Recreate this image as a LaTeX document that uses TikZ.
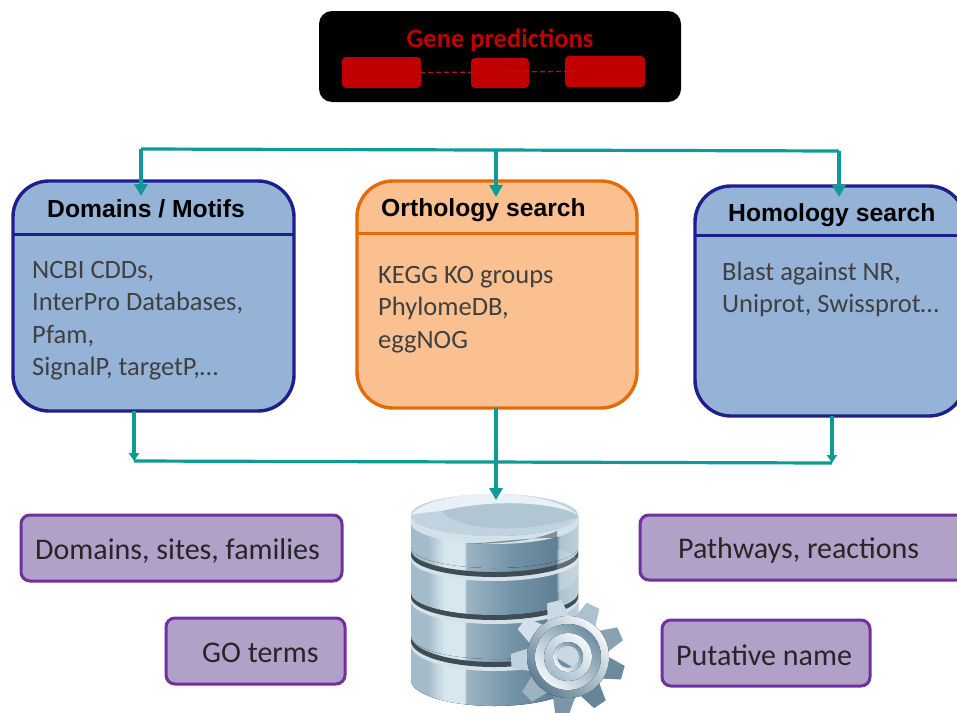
\documentclass[tikz,border=0pt]{standalone}
\usepackage{fontspec}
\setmainfont{Carlito}
\newfontfamily\headfont{Liberation Sans}
\usetikzlibrary{arrows.meta}
\definecolor{teal1}{HTML}{0E9A96}
\definecolor{bluefill}{HTML}{95B3D7}
\definecolor{blueline}{HTML}{1F1F8C}
\definecolor{orfill}{HTML}{FAC090}
\definecolor{orline}{HTML}{E36C09}
\definecolor{purfill}{HTML}{B1A0C7}
\definecolor{purline}{HTML}{7030A0}
\definecolor{redbox}{HTML}{C00000}
\definecolor{bodytext}{HTML}{404040}
\definecolor{dbA}{HTML}{D8E6EF}
\definecolor{dbB}{HTML}{A3BBCA}
\definecolor{dbC}{HTML}{6E8FA3}
\definecolor{dbD}{HTML}{5F7F93}
\definecolor{dbLip}{HTML}{D3E1E9}
\definecolor{dbGap}{HTML}{3F4C54}
\pgfdeclarehorizontalshading{dbsideshade}{100bp}{
  color(0bp)=(dbB); color(25bp)=(dbB); color(30bp)=(dbB); color(35bp)=(dbA); color(41bp)=(dbA);
  color(41.6bp)=(dbB!85!dbC); color(55bp)=(dbC!90!dbB); color(68.6bp)=(dbD);
  color(69.4bp)=(dbB!90!white); color(75bp)=(dbB!70!white); color(100bp)=(dbB!70!white)}
\tikzset{
  x=1pt,y=-1pt,
  conn/.style={draw=teal1,line width=3.2pt},
  arr/.style={conn,-{Stealth[length=12pt,width=13pt,inset=0pt]}},
  smallarr/.style={conn,-{Stealth[length=8pt,width=10pt,inset=0pt]}},
  catbox/.style={rounded corners=36pt,line width=3.4pt},
  bluebox/.style={catbox,draw=blueline,fill=bluefill},
  orbox/.style={catbox,draw=orline,fill=orfill},
  hline/.style={line width=3pt},
  head/.style={font=\headfont\bfseries\fontsize{24.7}{28}\selectfont,text=black,anchor=west,inner sep=0pt},
  body/.style={font=\fontsize{26.5}{32.3}\selectfont,text=bodytext,anchor=north west,align=left,inner sep=0pt},
  tag/.style={draw=purline,fill=purfill,line width=3pt,rounded corners=9pt,inner sep=0pt,outer sep=0pt,anchor=north west},
  tagtext/.style={font=\fontsize{30}{34}\selectfont,text=black!85,anchor=base west,inner sep=0pt},
  exon/.style={fill=redbox,rounded corners=4pt,inner sep=0pt,outer sep=0pt,anchor=north west},
  dbface/.style={shading=dbsideshade},
}
\begin{document}
\begin{tikzpicture}
\useasboundingbox (0,0) rectangle (957,712);
\fill[white] (0,0) rectangle (957,712);

% gene predictions
\node[fill=black,rounded corners=13pt,inner sep=0pt,outer sep=0pt,minimum width=362pt,minimum height=91pt,anchor=north west] (gene) at (319,11) {};
\node[font=\bfseries\fontsize{26.5}{28}\selectfont,text=redbox,inner sep=0pt] (genet) at (500,40) {Gene predictions};
\node[exon,minimum width=79pt,minimum height=31pt] (ex1) at (342,57) {};
\node[exon,minimum width=58pt,minimum height=30pt] (ex2) at (471,58) {};
\node[exon,minimum width=80pt,minimum height=31pt] (ex3) at (565,56) {};
\draw[redbox!85!gray,line width=1.3pt,dash pattern=on 5pt off 3pt,shorten <=-9pt,shorten >=-13pt] (ex1.east) -- (ex3.west);

% category boxes
\draw[bluebox] (13,181) rectangle (294,411);
\coordinate (dl) at (13,234); \coordinate (dr) at (294,234);
\draw[blueline,hline] (dl) -- (dr);
\coordinate (dtop) at (141,196); \coordinate (dbot) at (134,411);
\node[head] (dh) at (47,209) {Domains / Motifs};
\node[body] (db) at (32,261) {NCBI CDDs,\\InterPro Databases,\\Pfam,\\SignalP, targetP,\dots};

\draw[orbox] (357,181) rectangle (637,408);
\coordinate (ol) at (357,233); \coordinate (or) at (637,233);
\draw[orline,hline] (ol) -- (or);
\coordinate (otop) at (496,197); \coordinate (obot) at (496,408);
\node[head] (oh) at (381,210) {Orthology search};
\node[body] (ob) at (378,266) {KEGG KO groups\\PhylomeDB,\\eggNOG};

\draw[bluebox] (695,186) rectangle (965,416);
\coordinate (hl) at (695,235); \coordinate (hr) at (965,235);
\draw[blueline,hline] (hl) -- (hr);
\coordinate (htop) at (839,197); \coordinate (hbot) at (832,416);
\node[head] (hh) at (728,215) {Homology search};
\node[body] (hb) at (722,262) {Blast against NR,\\Uniprot, Swissprot\dots};

% connectors
\coordinate (tl) at (141,149); \coordinate (tm) at (496,150); \coordinate (tr) at (839,151);
\draw[conn] (tl) -- (tr);
\draw[arr] (tl) -- (dtop);
\draw[arr] (tm) -- (otop);
\draw[arr] (tr) -- (htop);
\coordinate (bl) at (134,461); \coordinate (br) at (832,463);
\draw[smallarr] (dbot) -- (bl);
\draw[smallarr] (hbot) -- (br);
\draw[conn] (bl) -- (br);

% database
\foreach \yt/\yb/\r in {637/680/26,593/636/23,551/593/22}{
  \fill[dbface] (411,\yt) -- (411,\yb)
     arc[start angle=180,end angle=360,x radius=83.5pt,y radius=\r pt] -- (578,\yt) -- cycle;
  \fill[dbLip] (411,\yt) arc[start angle=180,end angle=360,x radius=83.5pt,y radius=\r pt]
     -- (578,{\yt+8}) arc[start angle=0,end angle=-180,x radius=83.5pt,y radius=\r pt] -- cycle;
  \fill[dbGap] (411,{\yt-1}) arc[start angle=180,end angle=360,x radius=83.5pt,y radius=\r pt]
     -- (578,{\yt+4}) arc[start angle=0,end angle=-180,x radius=83.5pt,y radius=\r pt] -- cycle;
}
\fill[dbface] (411,515) -- (411,547)
   arc[start angle=180,end angle=360,x radius=83.5pt,y radius=21pt] -- (578,515) -- cycle;
\fill[white,opacity=.18] (557,550) .. controls (565,550) and (575,555) .. (578,560) -- (578,575) .. controls (570,590) and (560,590) .. (557,592) -- cycle;
\fill[dbLip] (411,515) arc[start angle=180,end angle=360,x radius=83.5pt,y radius=21pt]
   -- (578,523) arc[start angle=0,end angle=-180,x radius=83.5pt,y radius=21pt] -- cycle;
\fill[dbGap,opacity=.55] (465,544) .. controls (500,544) and (535,541) .. (557,531) -- (557,538) .. controls (535,537) and (500,542) .. (465,544) -- cycle;
\fill[dbB!45!dbA] (494.5,515) ellipse[x radius=83.5pt,y radius=21pt];
\fill[dbB!75!dbA] (441,511) .. controls (460,533) and (530,533) .. (578,517) .. controls (566,503) and (500,497) .. (441,511) -- cycle;
\fill[white!45!dbA] (411,515) .. controls (420,503) and (450,494) .. (494,494) .. controls (535,494) and (565,503) .. (578,515) .. controls (560,504) and (500,497) .. (441,511) .. controls (430,512) and (420,513) .. (411,515) -- cycle;
\coordinate (dbtop) at (496,500);
\draw[arr] (obot) -- (dbtop);

% gear
\begin{scope}[shift={(568,657)}]
  \foreach \a in {104,144,...,464}{
    \pgfmathsetmacro{\m}{50-45*cos(\a-135)}
    \fill[dbD!\m!dbA,rotate=\a] (36,-12) -- (57,-7) -- (57,7) -- (36,12) -- cycle;
  }
  \fill[left color=white!70!dbA,right color=dbD,shading angle=315] (0,0) circle[radius=41pt];
  \fill[left color=dbC,right color=white!60!dbA,shading angle=315] (0,0) circle[radius=33pt];
  \fill[left color=white!70!dbA,right color=dbB,shading angle=315] (0,0) circle[radius=24pt];
  \fill[left color=dbC,right color=white!75!dbA,shading angle=315] (0,0) circle[radius=15pt];
  \fill[dbA!70!dbB] (0,0) circle[radius=11pt];
  \fill[dbC] (-11,1) -- (4,10) arc[start angle=-70,end angle=-178,radius=11pt] -- cycle;
\end{scope}

% tags
\node[tag,minimum width=321pt,minimum height=66pt] (t1) at (21,515) {};
\node[tagtext] (t1t) at (35,559) {Domains, sites, families};
\node[tag,minimum width=179pt,minimum height=66pt] (t2) at (166,618) {};
\node[tagtext] (t2t) at (202,662) {GO terms};
\node[tag,minimum width=330pt,minimum height=65pt] (t3) at (640,515) {};
\node[tagtext] (t3t) at (678,558) {Pathways, reactions};
\node[tag,minimum width=208pt,minimum height=66pt] (t4) at (662,620) {};
\node[tagtext] (t4t) at (676,665) {Putative name};
\end{tikzpicture}
\end{document}
